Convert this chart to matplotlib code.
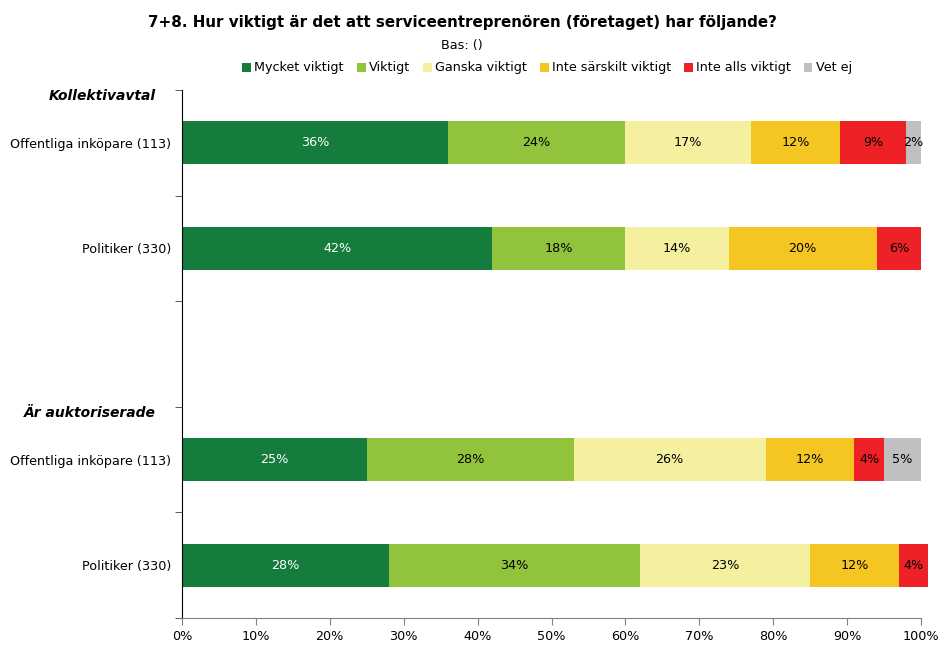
import matplotlib
matplotlib.use("Agg")
import matplotlib.pyplot as plt
import numpy as np
from matplotlib.patches import Patch

plt.rcParams['font.family'] = ['DejaVu Sans']

title = "7+8. Hur viktigt är det att serviceentreprenören (företaget) har följande?"
subtitle = "Bas: ()"
categories = ["Mycket viktigt", "Viktigt", "Ganska viktigt", "Inte särskilt viktigt", "Inte alls viktigt", "Vet ej"]
colors = ["#157C3E", "#92C33C", "#F4F0A0", "#F5C522", "#EE2226", "#C0C0C0"]
text_colors = ["white", "black", "black", "black", "black", "black"]

groups = ["Kollektivavtal", "Är auktoriserade"]
row_labels = ["Offentliga inköpare (113)", "Politiker (330)", "", "Offentliga inköpare (113)", "Politiker (330)"]
# values per row (row 2 is blank spacer)
values = {
    0: [36, 24, 17, 12, 9, 2],
    1: [42, 18, 14, 20, 6, 0],
    3: [25, 28, 26, 12, 4, 5],
    4: [28, 34, 23, 12, 4, 0],
}
group_rows = [0, 3]

fig = plt.figure(figsize=(9.4, 6.48), dpi=100)
ax = fig.add_axes([182/940, 1-618/648, (921-182)/940, (618-90)/648])

bar_h = 0.41
for r, vals in values.items():
    left = 0
    for i, v in enumerate(vals):
        if v > 0:
            ax.barh(r, v, left=left, height=bar_h, color=colors[i], clip_on=False)
            ax.text(left + v/2, r, f"{v}%", ha="center", va="center", fontsize=9.2, color=text_colors[i])
        left += v

handles = [Patch(facecolor=c, edgecolor="none") for c in colors]
fig.legend(handles, categories, loc="center", bbox_to_anchor=(547/940, 1-68/648), ncol=6, frameon=False,
           handlelength=0.7, handleheight=0.7, handletextpad=0.25, columnspacing=1.0, fontsize=9.2)

ax.set_xlim(0, 100)
ax.set_ylim(4.5, -0.5)
ax.set_xticks(np.arange(0, 101, 10))
ax.set_xticklabels([f"{t}%" for t in range(0, 101, 10)], fontsize=9.2)
ax.set_yticks([0, 1, 3, 4])
ax.set_yticklabels([row_labels[i] for i in [0, 1, 3, 4]], fontsize=9.2)
ax.tick_params(axis="y", which="major", length=0, pad=8)
ax.set_yticks(np.arange(-0.5, 4.6, 1), minor=True)
ax.tick_params(axis="y", which="minor", length=5, direction="out", color="#404040")
ax.tick_params(axis="x", length=5, direction="out", color="#808080", pad=4)
for s in ["top", "right"]:
    ax.spines[s].set_visible(False)
ax.spines["left"].set_color("black")
ax.spines["bottom"].set_color("#808080")

for g, r in zip(groups, group_rows):
    ax.text(-0.036, r - 0.44, g, transform=ax.get_yaxis_transform(), ha="right", va="center",
            fontsize=10, fontweight="bold", fontstyle="italic")

fig.text(462/940, 1-22/648, title, ha="center", va="center", fontsize=10.9, fontweight="bold")
fig.text(462/940, 1-45/648, subtitle, ha="center", va="center", fontsize=9.2)

fig.savefig("out.png", dpi=100)
